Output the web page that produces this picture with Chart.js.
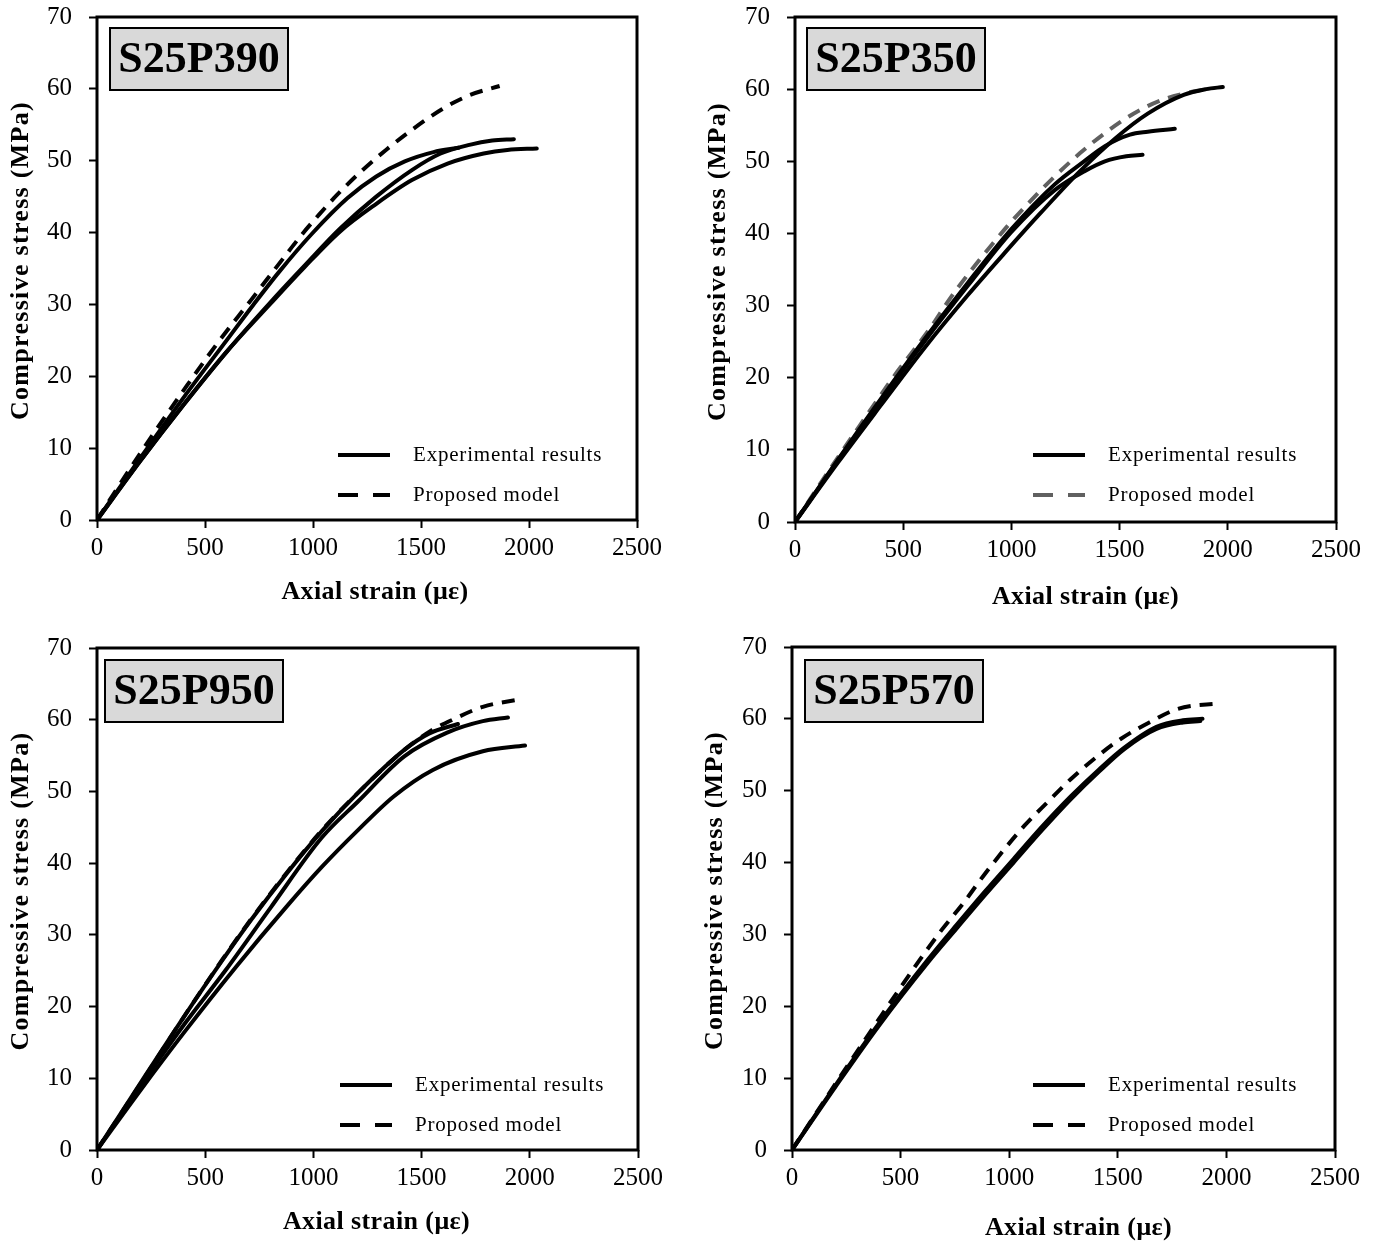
<!DOCTYPE html>
<html>
<head>
<meta charset="utf-8">
<script src="https://cdn.jsdelivr.net/npm/chart.js@4.4.1/dist/chart.umd.min.js"></script>
<style>
  body { margin: 0; background: #fff; width: 1379px; height: 1245px; position: relative; overflow: hidden; }
  .panel { position: absolute; }
</style>
</head>
<body>
<div class="panel" style="left:0px;top:0px"><canvas id="c1" width="690" height="620"></canvas></div>
<div class="panel" style="left:695px;top:0px"><canvas id="c2" width="684" height="625"></canvas></div>
<div class="panel" style="left:0px;top:630px"><canvas id="c3" width="690" height="615"></canvas></div>
<div class="panel" style="left:695px;top:630px"><canvas id="c4" width="684" height="615"></canvas></div>
<script>
// axis ticks and labels
const xTicks = [0, 500, 1000, 1500, 2000, 2500];
const yTicks = [0, 10, 20, 30, 40, 50, 60, 70];
const xTitle = 'Axial strain (με)';
const yTitle = 'Compressive stress (MPa)';
const legendLabels = ['Experimental results', 'Proposed model'];
const specimens = ['S25P390', 'S25P350', 'S25P950', 'S25P570'];

// S25P390  [strain, stress]
const p390Exp1 = [[0,0],[200,8.6],[400,17],[600,25],[725,30],[845,34.6],[994,39.8],[1160,44.8],[1293,47.8],[1425,49.9],[1558,51.2],[1674,51.8]];
const p390Exp2 = [[0,0],[200,8.2],[400,16],[600,23.4],[800,30.2],[961,35.4],[1127,40.6],[1293,45],[1458,48.7],[1591,51],[1724,52.2],[1830,52.8],[1930,53.0]];
const p390Exp3 = [[0,0],[200,8.2],[400,16],[600,23.4],[800,30.0],[961,35.2],[1127,40.2],[1293,44],[1458,47.3],[1623,49.6],[1790,51],[1900,51.5],[2036,51.7]];
const p390Model = [[0,0],[100,4.7],[250,11.5],[400,18],[550,24.3],[713,30.6],[862,36.4],[945,39.6],[1028,42.5],[1110,45.2],[1226,48.6],[1342,51.6],[1458,54.3],[1599,57.2],[1723,59.1],[1864,60.4]];

// S25P350
const p350Exp1 = [[0,0],[200,8.3],[400,16.3],[600,24.2],[800,31.5],[969,37.3],[1134,42.8],[1316,48.6],[1481,53.2],[1630,56.6],[1796,59.2],[1900,60.0],[1977,60.3]];
const p350Exp2 = [[0,0],[200,8.7],[400,17.2],[600,25.4],[800,33.2],[1000,40.6],[1200,46.8],[1336,50.0],[1432,52.1],[1548,53.7],[1630,54.1],[1755,54.5]];
const p350Exp3 = [[0,0],[200,8.6],[400,17],[600,25.1],[800,32.8],[1000,40.2],[1200,46.0],[1336,48.6],[1432,50.0],[1531,50.7],[1606,50.9]];
const p350Model = [[0,0],[150,6.8],[300,13.4],[450,19.9],[630,27.1],[712,30.8],[804,34.5],[903,38.2],[1002,41.7],[1101,44.9],[1200,47.9],[1316,51.1],[1432,53.9],[1564,56.6],[1696,58.5],[1800,59.4],[1880,59.9]];

// S25P950
const p950Exp1 = [[0,0],[200,9.3],[400,18.5],[578,26.4],[710,32.0],[875,38.5],[1040,44.5],[1206,49.8],[1420,55.8],[1536,58.1],[1668,59.4]];
const p950Exp2 = [[0,0],[200,8.9],[400,17.4],[595,25.1],[800,33.7],[1040,43.6],[1206,48.6],[1420,54.9],[1618,58.2],[1783,59.8],[1899,60.3]];
const p950Exp3 = [[0,0],[200,8.3],[400,16.3],[644,25.6],[875,33.9],[1040,39.5],[1206,44.6],[1371,49.3],[1552,53.0],[1783,55.6],[1978,56.4]];
const p950Model = [[0,0],[200,9.2],[400,18.5],[578,26.5],[710,32.1],[875,38.6],[1040,44.6],[1206,49.8],[1420,55.8],[1540,58.4],[1643,60.0],[1783,61.8],[1964,62.9]];

// S25P570
const p570Exp1 = [[0,0],[200,9.0],[400,17.6],[626,26.5],[757,31.3],[889,36.0],[1020,40.5],[1151,45.0],[1283,49.2],[1415,53.0],[1530,56.0],[1678,58.9],[1800,59.8],[1890,60.0]];
const p570Exp2 = [[0,0],[200,8.8],[400,17.3],[626,26.1],[757,30.8],[889,35.5],[1020,40.0],[1151,44.5],[1283,48.8],[1415,52.7],[1530,55.8],[1678,58.6],[1800,59.5],[1880,59.7]];
const p570Model = [[0,0],[200,9.2],[400,18.2],[601,27.0],[691,30.7],[790,34.4],[880,38.1],[971,41.6],[1069,45.1],[1176,48.4],[1283,51.6],[1398,54.6],[1513,57.2],[1645,59.5],[1777,61.4],[1974,62.2]];

const serif = '"Liberation Serif", "Times New Roman", serif';
const tickSize = 25;

function pts(arr) {
    return arr.map(p => ({ x: p[0], y: p[1] }));
}

function expSet(arr) {
    return {
        data: pts(arr), borderColor: '#000', borderWidth: 4,
        borderCapStyle: 'round', pointRadius: 0, showLine: true,
        cubicInterpolationMode: 'monotone'
    };
}

function modelSet(arr, color) {
    return {
        data: pts(arr), borderColor: color, borderWidth: 4,
        borderDash: [13, 9], borderCapStyle: 'butt', pointRadius: 0, showLine: true,
        cubicInterpolationMode: 'monotone'
    };
}

// draws the frame, axis titles, the specimen box and the legend
const decor = {
    id: 'decor',
    afterDraw(chart, args, o) {
        const ctx = chart.ctx, a = chart.chartArea;
        ctx.save();
        ctx.strokeStyle = '#000';
        ctx.lineWidth = 3;
        ctx.strokeRect(a.left, a.top, a.right - a.left, a.bottom - a.top);

        // axis titles
        ctx.fillStyle = '#000';
        ctx.font = 'bold 26px ' + serif;
        ctx.textAlign = 'center';
        ctx.textBaseline = 'middle';
        ctx.letterSpacing = '0.4px';
        ctx.fillText(xTitle, (a.left + a.right) / 2 + o.xt[0], a.bottom + o.xt[1]);
        ctx.save();
        ctx.translate(o.yt, (a.top + a.bottom) / 2 - 8);
        ctx.rotate(-Math.PI / 2);
        ctx.letterSpacing = '1.3px';
        ctx.fillText(yTitle, 0, 0);
        ctx.restore();
        ctx.letterSpacing = '0px';

        // specimen box
        const bx = a.left + o.box[0], by = a.top + o.box[1];
        ctx.fillStyle = '#d9d9d9';
        ctx.fillRect(bx, by, 178, 62);
        ctx.lineWidth = 2;
        ctx.strokeRect(bx, by, 178, 62);
        ctx.fillStyle = '#000';
        ctx.font = 'bold 44px ' + serif;
        ctx.fillText(o.name, bx + 89, by + 33);

        // legend
        const lx = a.left + o.legend[0];
        const ly1 = a.bottom - o.legend[1], ly2 = ly1 + 40;
        ctx.lineWidth = 4;
        ctx.beginPath(); ctx.moveTo(lx, ly1); ctx.lineTo(lx + 52, ly1); ctx.stroke();
        ctx.strokeStyle = o.modelColor;
        ctx.setLineDash([20, 15]);
        ctx.beginPath(); ctx.moveTo(lx, ly2); ctx.lineTo(lx + 52, ly2); ctx.stroke();
        ctx.setLineDash([]);
        ctx.font = '21px ' + serif;
        ctx.letterSpacing = '0.8px';
        ctx.textAlign = 'left';
        ctx.fillText(legendLabels[0], lx + 75, ly1);
        ctx.fillText(legendLabels[1], lx + 75, ly2);
        ctx.restore();
    }
};

function makeChart(id, name, sets, area, modelColor) {
    const canvas = document.getElementById(id);
    const W = canvas.width, H = canvas.height;
    return new Chart(canvas, {
        type: 'scatter',
        data: { datasets: sets },
        options: {
            responsive: false,
            animation: false,
            layout: { padding: { left: 0, top: area.top, right: W - area.right, bottom: 0 } },
            plugins: {
                legend: { display: false },
                tooltip: { enabled: false },
                decor: { name: name, box: area.box, legend: area.legend, xt: area.xt, yt: area.yt, modelColor: modelColor }
            },
            scales: {
                x: {
                    type: 'linear',
                    min: xTicks[0], max: xTicks[xTicks.length - 1],
                    afterFit: s => { s.height = H - area.bottom; s.paddingLeft = 0; s.paddingRight = 0; },
                    afterBuildTicks: s => { s.ticks = xTicks.map(v => ({ value: v })); },
                    ticks: { color: '#000', font: { family: serif, size: tickSize }, padding: 5, maxRotation: 0, callback: v => String(v) },
                    grid: { drawOnChartArea: false, drawTicks: true, tickLength: 8, tickWidth: 2, tickColor: '#000' },
                    border: { display: false }
                },
                y: {
                    type: 'linear',
                    min: yTicks[0], max: yTicks[yTicks.length - 1],
                    afterFit: s => { s.width = area.left; s.paddingTop = 0; s.paddingBottom = 0; },
                    afterBuildTicks: s => { s.ticks = yTicks.map(v => ({ value: v })); },
                    ticks: { color: '#000', font: { family: serif, size: tickSize }, padding: 17, callback: v => String(v) },
                    grid: { drawOnChartArea: false, drawTicks: true, tickLength: 8, tickWidth: 2, tickColor: '#000' },
                    border: { display: false }
                }
            }
        },
        plugins: [decor]
    });
}

makeChart('c1', specimens[0],
    [expSet(p390Exp1), expSet(p390Exp2), expSet(p390Exp3), modelSet(p390Model, '#000')],
    { left: 97, top: 17, right: 637, bottom: 520, box: [13, 11], legend: [241, 65], xt: [8, 72], yt: 21 }, '#000');

makeChart('c2', specimens[1],
    [expSet(p350Exp1), expSet(p350Exp2), expSet(p350Exp3), modelSet(p350Model, '#606060')],
    { left: 100, top: 17, right: 641, bottom: 522, box: [12, 11], legend: [238, 67], xt: [20, 75], yt: 23 }, '#606060');

makeChart('c3', specimens[2],
    [expSet(p950Exp1), expSet(p950Exp2), expSet(p950Exp3), modelSet(p950Model, '#000')],
    { left: 97, top: 18, right: 638, bottom: 520, box: [8, 12], legend: [243, 65], xt: [9, 72], yt: 21 }, '#000');

makeChart('c4', specimens[3],
    [expSet(p570Exp1), expSet(p570Exp2), modelSet(p570Model, '#000')],
    { left: 97, top: 17, right: 640, bottom: 520, box: [13, 13], legend: [241, 65], xt: [15, 78], yt: 20 }, '#000');
</script>
</body>
</html>
